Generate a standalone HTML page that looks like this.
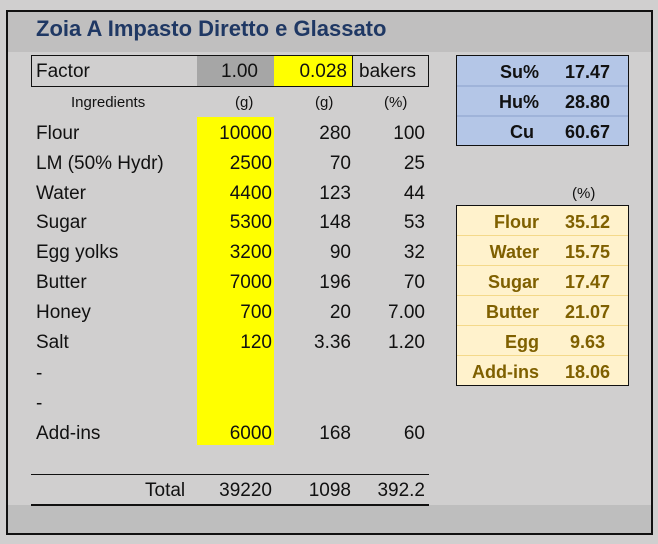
<!DOCTYPE html><html><head><style>
body{margin:0;width:658px;height:544px;background:#d0cfcf;position:relative;overflow:hidden;font-family:"Liberation Sans",Arial,sans-serif;}
div{position:absolute;box-sizing:border-box;}
.t{font-size:19px;color:#111;line-height:30px;white-space:nowrap}
.r{text-align:right}
.b{font-weight:bold;font-size:18px;line-height:30px}
</style></head><body>
<div style="left:6px;top:10px;width:647px;height:525px;border:2px solid #111;"></div>
<div style="left:8px;top:12px;width:643px;height:40px;background:#c0bfbf"></div>
<div style="left:8px;top:505px;width:643px;height:28px;background:#bebebe"></div>
<div style="left:36px;top:14px;font-size:22px;font-weight:bold;color:#1f3864;line-height:30px;white-space:nowrap">Zoia A Impasto Diretto e Glassato</div>
<div style="left:31px;top:55px;width:398px;height:32px;border:1px solid #111"></div>
<div style="left:197px;top:56px;width:77px;height:30px;background:#a6a6a6"></div>
<div style="left:274px;top:56px;width:79px;height:30px;background:#ffff00;border-right:1px solid #111"></div>
<div class="t" style="left:36px;top:57px">Factor</div>
<div class="t r" style="left:197px;top:57px;width:61px">1.00</div>
<div class="t r" style="left:274px;top:57px;width:73px">0.028</div>
<div class="t" style="left:359px;top:57px">bakers</div>
<div style="left:197px;top:117px;width:77px;height:328px;background:#ffff00"></div>
<div class="t" style="left:71px;top:88px;font-size:15px">Ingredients</div>
<div class="t" style="left:235px;top:88px;font-size:15px">(g)</div>
<div class="t" style="left:315px;top:88px;font-size:15px">(g)</div>
<div class="t" style="left:384px;top:88px;font-size:15px">(%)</div>
<div style="left:0;top:119px;width:440px;height:330px">
<div class="t" style="left:36px;top:0">Flour</div><div class="t r" style="left:200px;top:0;width:72px">10000</div><div class="t r" style="left:280px;top:0;width:71px">280</div><div class="t r" style="left:360px;top:0;width:65px">100</div>
<div class="t" style="left:36px;top:30px">LM (50% Hydr)</div><div class="t r" style="left:200px;top:30px;width:72px">2500</div><div class="t r" style="left:280px;top:30px;width:71px">70</div><div class="t r" style="left:360px;top:30px;width:65px">25</div>
<div class="t" style="left:36px;top:60px">Water</div><div class="t r" style="left:200px;top:60px;width:72px">4400</div><div class="t r" style="left:280px;top:60px;width:71px">123</div><div class="t r" style="left:360px;top:60px;width:65px">44</div>
<div class="t" style="left:36px;top:89px">Sugar</div><div class="t r" style="left:200px;top:89px;width:72px">5300</div><div class="t r" style="left:280px;top:89px;width:71px">148</div><div class="t r" style="left:360px;top:89px;width:65px">53</div>
<div class="t" style="left:36px;top:119px">Egg yolks</div><div class="t r" style="left:200px;top:119px;width:72px">3200</div><div class="t r" style="left:280px;top:119px;width:71px">90</div><div class="t r" style="left:360px;top:119px;width:65px">32</div>
<div class="t" style="left:36px;top:149px">Butter</div><div class="t r" style="left:200px;top:149px;width:72px">7000</div><div class="t r" style="left:280px;top:149px;width:71px">196</div><div class="t r" style="left:360px;top:149px;width:65px">70</div>
<div class="t" style="left:36px;top:179px">Honey</div><div class="t r" style="left:200px;top:179px;width:72px">700</div><div class="t r" style="left:280px;top:179px;width:71px">20</div><div class="t r" style="left:360px;top:179px;width:65px">7.00</div>
<div class="t" style="left:36px;top:209px">Salt</div><div class="t r" style="left:200px;top:209px;width:72px">120</div><div class="t r" style="left:280px;top:209px;width:71px">3.36</div><div class="t r" style="left:360px;top:209px;width:65px">1.20</div>
<div class="t" style="left:36px;top:240px">-</div>
<div class="t" style="left:36px;top:270px">-</div>
<div class="t" style="left:36px;top:300px">Add-ins</div><div class="t r" style="left:200px;top:300px;width:72px">6000</div><div class="t r" style="left:280px;top:300px;width:71px">168</div><div class="t r" style="left:360px;top:300px;width:65px">60</div>
</div>
<div style="left:31px;top:474px;width:398px;height:1px;background:#111"></div>
<div style="left:31px;top:504px;width:398px;height:2px;background:#111"></div>
<div class="t" style="left:145px;top:476px">Total</div>
<div class="t r" style="left:200px;top:476px;width:72px">39220</div>
<div class="t r" style="left:280px;top:476px;width:71px">1098</div>
<div class="t r" style="left:360px;top:476px;width:65px">392.2</div>
<div style="left:456px;top:55px;width:173px;height:91px;background:#b4c6e7;border:1px solid #111"></div>
<div style="left:457px;top:85px;width:171px;height:2px;background:#9fb3d9"></div>
<div style="left:457px;top:115px;width:171px;height:2px;background:#9fb3d9"></div>
<div class="b r" style="left:460px;top:57px;width:79px;color:#111">Su%</div><div class="b r" style="left:540px;top:57px;width:70px;color:#111">17.47</div>
<div class="b r" style="left:460px;top:87px;width:79px;color:#111">Hu%</div><div class="b r" style="left:540px;top:87px;width:70px;color:#111">28.80</div>
<div class="b r" style="left:460px;top:117px;width:74px;color:#111">Cu</div><div class="b r" style="left:540px;top:117px;width:70px;color:#111">60.67</div>
<div class="t" style="left:572px;top:179px;font-size:15px">(%)</div>
<div style="left:456px;top:205px;width:173px;height:181px;background:#fff2cc;border:1px solid #111"></div>
<div style="left:457px;top:235px;width:171px;height:1px;background:#f4d98a"></div>
<div style="left:457px;top:265px;width:171px;height:1px;background:#f4d98a"></div>
<div style="left:457px;top:295px;width:171px;height:1px;background:#f4d98a"></div>
<div style="left:457px;top:325px;width:171px;height:1px;background:#f4d98a"></div>
<div style="left:457px;top:355px;width:171px;height:1px;background:#f4d98a"></div>
<div style="left:456px;top:207px;width:173px;color:#7f6000">
<div class="b r" style="left:0;top:0;width:83px">Flour</div><div class="b r" style="left:84px;top:0;width:70px">35.12</div>
<div class="b r" style="left:0;top:30px;width:83px">Water</div><div class="b r" style="left:84px;top:30px;width:70px">15.75</div>
<div class="b r" style="left:0;top:60px;width:83px">Sugar</div><div class="b r" style="left:84px;top:60px;width:70px">17.47</div>
<div class="b r" style="left:0;top:90px;width:83px">Butter</div><div class="b r" style="left:84px;top:90px;width:70px">21.07</div>
<div class="b r" style="left:0;top:120px;width:83px">Egg</div><div class="b r" style="left:84px;top:120px;width:65px">9.63</div>
<div class="b r" style="left:0;top:150px;width:83px">Add-ins</div><div class="b r" style="left:84px;top:150px;width:70px">18.06</div>
</div>
</body></html>
